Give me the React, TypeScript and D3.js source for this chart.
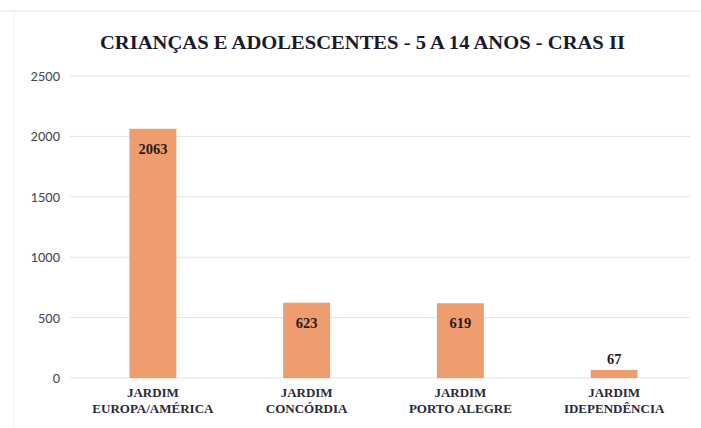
import React from "react";
import * as d3 from "d3";

const categories = [["JARDIM", "EUROPA/AMÉRICA"], ["JARDIM", "CONCÓRDIA"], ["JARDIM", "PORTO ALEGRE"], ["JARDIM", "IDEPENDÊNCIA"]];
const values = [2063, 623, 619, 67];
const yTicks = [0, 500, 1000, 1500, 2000, 2500];
const title = "CRIANÇAS E ADOLESCENTES - 5 A 14 ANOS - CRAS II";

export default function App() {
  const W = 701, H = 428;
  const x = d3.scaleBand<number>().domain(d3.range(values.length)).range([76, 691]).paddingInner(0.695).paddingOuter(0.3475);
  const y = d3.scaleLinear().domain([0, 2500]).range([378, 76]);
  const serif = { fontFamily: "\"Liberation Serif\", \"DejaVu Serif\", serif" };
  const sans = { fontFamily: "Carlito, \"Open Sans\", \"Liberation Sans\", sans-serif" };
  return (
    <svg width={W} height={H} style={{ position: "absolute", left: 0, top: 0 }}>
      <rect x={0} y={0} width={W} height={H} fill="#fff" />
      <line x1={0} x2={W} y1={11} y2={11} stroke="#e6e6e6" strokeWidth={1} />
      <line x1={14} x2={14} y1={11} y2={H} stroke="#f0f0f0" strokeWidth={1} />
      <text x={100} y={49} textAnchor="start" textLength={525} lengthAdjust="spacingAndGlyphs" style={serif} fontWeight="bold" fontSize={19} fill="#1a1a2a">{title}</text>
      {yTicks.map(t => (
        <g key={t}>
          <line x1={70} x2={690} y1={y(t)} y2={y(t)} stroke="#e4e4e4" strokeWidth={1} />
          <text x={60} y={y(t) + 5} textAnchor="end" style={sans} fontSize={14.5} fill="#4a4a4a">{t}</text>
        </g>
      ))}
      {values.map((v, i) => {
        const bx = x(i)!, bw = x.bandwidth();
        const cx = bx + bw / 2;
        const inside = y(0) - y(v) > 30;
        return (
          <g key={i}>
            <rect x={bx} y={y(v)} width={bw} height={y(0) - y(v)} fill="#EF9D6E" />
            <text x={cx} y={inside ? y(v) + 25 : y(v) - 6} textAnchor="middle" style={serif} fontWeight="bold" fontSize={14.5} fill="#2a1a1a">{v}</text>
            {categories[i].map((l, j) => (
              <text key={j} x={cx} y={397 + j * 16} textAnchor="middle" style={serif} fontWeight="bold" fontSize={13} fill="#2a2a3a">{l}</text>
            ))}
          </g>
        );
      })}
    </svg>
  );
}
